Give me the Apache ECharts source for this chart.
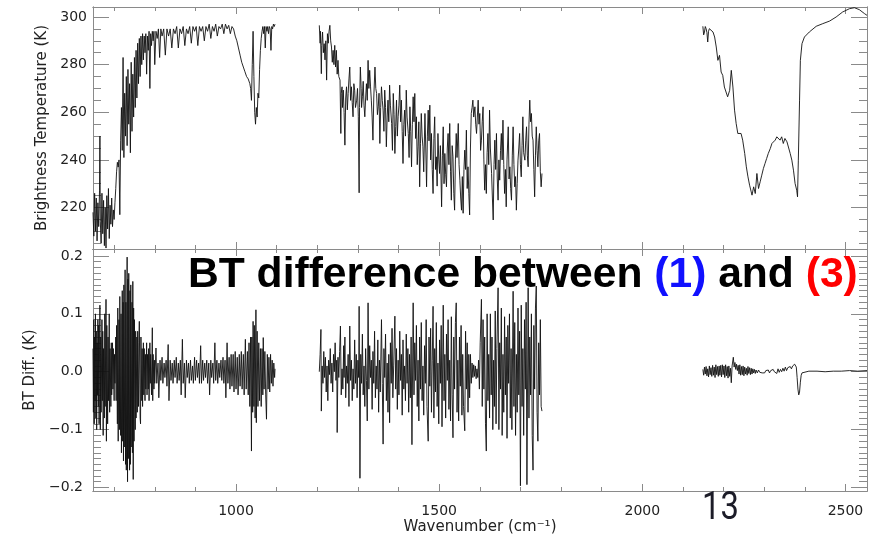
<!DOCTYPE html>
<html>
<head>
<meta charset="utf-8">
<script src="https://cdn.jsdelivr.net/npm/echarts@6/dist/echarts.min.js"></script>
<style>
html,body{margin:0;padding:0;background:#fff;}
#chart{width:870px;height:536px;}
</style>
</head>
<body>
<div id="chart"></div>
<script>
// ---------- axis ranges & ticks ----------
const xRange = [648, 2553];
const xMajorTicks = [1000, 1500, 2000, 2500];
const xMinorTicks = [700, 800, 900, 1000, 1100, 1200, 1300, 1400, 1500, 1600, 1700, 1800, 1900, 2000, 2100, 2200, 2300, 2400, 2500];
const btRange = [202.6, 304.2];
const btMajorTicks = [220, 240, 260, 280, 300];
const btMinorTicks = [205, 210, 215, 220, 225, 230, 235, 240, 245, 250, 255, 260, 265, 270, 275, 280, 285, 290, 295, 300];
const dRange = [-0.206, 0.212];
const dMajorTicks = [-0.2, -0.1, 0, 0.1, 0.2];
const dMajorLabels = ['\u22120.2', '\u22120.1', '0.0', '0.1', '0.2'];
const dMinorTicks = [-0.2, -0.19, -0.18, -0.17, -0.16, -0.15, -0.14, -0.13, -0.12, -0.11, -0.1, -0.09, -0.08, -0.07, -0.06, -0.05, -0.04, -0.03, -0.02, -0.01, 0, 0.01, 0.02, 0.03, 0.04, 0.05, 0.06, 0.07, 0.08, 0.09, 0.1, 0.11, 0.12, 0.13, 0.14, 0.15, 0.16, 0.17, 0.18, 0.19, 0.2];

// ---------- brightness temperature (K), [wavenumber, BT] ----------
const btBand1 = [[648,218],[650,208],[652,226],[654,210],[656,224],[658,206],[660,222],[662,212],[664,227],[665,250],[666,214],[668,205],[670,226],[672,209],[674,223],[676,204],[678,220],[680,203],[682,225],[684,211],[686,228],[688,207],[690,221],[692,213],[694,224],[696,212],[698,219],[700,215],[702,222],[704,228],[706,235],[708,239],[710,237],[712,240],[714,217],[716,248],[718,262],[720,244],[722,283],[724,241],[726,268],[728,250],[730,275],[732,246],[734,278],[736,255],[738,272],[740,243],[742,281],[744,252],[746,276],[748,258],[750,283],[752,262],[754,286],[756,266],[758,289],[760,272],[762,291],[764,275],[766,292],[768,280],[770,293],[772,282],[774,292],[776,285],[778,293],[780,276],[782,292],[784,286],[786,294],[788,270],[790,293],[792,288],[794,294],[796,290],[798,294],[800,280],[803,294],[806,291],[809,295],[812,283],[815,295],[818,292],[822,295],[826,284],[830,295],[834,292],[838,295],[842,287],[846,295],[850,293],[854,296],[858,287],[862,295],[866,293],[870,296],[874,288],[878,295],[882,293],[886,296],[890,289],[894,296],[898,294],[902,296],[906,288],[910,296],[914,294],[918,296],[922,290],[926,296],[930,294],[934,297],[938,291],[942,296],[946,294],[950,297],[954,292],[958,296],[962,295],[966,297],[970,293],[974,297],[978,295],[982,296.5],[986,293],[990,296],[994,295],[998,292],[1002,290],[1006,287],[1010,284],[1014,281],[1018,279],[1022,277],[1026,275],[1030,274],[1034,272],[1036,270],[1038,265],[1040,280],[1042,294],[1044,275],[1046,260],[1048,255],[1050,262],[1052,258],[1054,268],[1056,266],[1058,278],[1060,286],[1062,291],[1064,294],[1066,296],[1068,293],[1070,296],[1072,287],[1074,296],[1076,294],[1078,296],[1080,293],[1082,296],[1084,295],[1086,286],[1088,296],[1090,295],[1092,297],[1094,296],[1096,297]];
const btBand2 = [[1205,296.5],[1207,289],[1208,294],[1210,276.2],[1211,288],[1213,293.7],[1215,285],[1217,288.8],[1219,282],[1221,290],[1223,273.5],[1225,293],[1227,289],[1229,294],[1231,296.5],[1233,290],[1235,287.4],[1237,281],[1239,286],[1241,280],[1243,288.1],[1245,279],[1247,286],[1249,276],[1251,281.8],[1253,275],[1256,273.5],[1258,251.1],[1259,268],[1261,270.7],[1262,262],[1264,269.3],[1266,260],[1268,246.2],[1270,266],[1272,270.7],[1274,261],[1276,267.9],[1278,274],[1280,279],[1282,265],[1284,270.7],[1286,264],[1288,258.1],[1290,272],[1292,269.3],[1294,262],[1297,265.1],[1299,270],[1301,258.1],[1303,226.2],[1304,262],[1306,279],[1308,270],[1309,262],[1311,266.5],[1313,273],[1315,263],[1317,258.1],[1319,266],[1321,272],[1323,265],[1325,281.8],[1327,270],[1329,277.6],[1331,271],[1333,265.1],[1335,258],[1337,248.3],[1339,266],[1342,279],[1344,270],[1346,267.9],[1348,259],[1350,262.3],[1352,268],[1354,246.9],[1356,262],[1358,270.7],[1360,265],[1362,260.9],[1364,252],[1366,269.3],[1368,262],[1370,245.5],[1372,258],[1374,265.1],[1376,256],[1378,271.4],[1380,263],[1383,255.3],[1385,244],[1387,267.9],[1389,259],[1391,242.7],[1393,254],[1395,265.1],[1397,250],[1399,258.1],[1401,263],[1403,271.4],[1405,256],[1407,265.1],[1409,252],[1411,238.5],[1413,255],[1415,260.9],[1417,250],[1419,269.3],[1421,258],[1424,251.1],[1426,241],[1428,262.3],[1430,252],[1432,237.1],[1434,255],[1436,266.5],[1438,256],[1440,267.9],[1442,249],[1444,258.1],[1446,238],[1448,245.5],[1450,256],[1452,228.7],[1454,247],[1456,259.5],[1458,250],[1460,245.5],[1462,235],[1465,259.5],[1467,245],[1469,228.7],[1471,250],[1473,260.9],[1475,248],[1477,263],[1479,240],[1481,251.1],[1483,236],[1485,225.9],[1487,249],[1489,258.1],[1491,236],[1493,241.3],[1495,229],[1497,251.1],[1499,240],[1501,234.3],[1503,246],[1506,220.3],[1508,242],[1510,253.9],[1512,230],[1514,242.7],[1516,234],[1518,228.7],[1520,245],[1522,251.1],[1524,238],[1526,255.3],[1528,235],[1530,223.1],[1532,246],[1534,241.3],[1536,226],[1538,218.9],[1540,240],[1542,251.1],[1544,241],[1547,255.3],[1549,238],[1551,231.5],[1553,224],[1555,218.9],[1557,233],[1559,217.6],[1561,236],[1563,244.1],[1565,236],[1567,252.5],[1569,228],[1571,237.1],[1573,226],[1575,216.9],[1577,245],[1579,259.5],[1581,262],[1583,265.1],[1585,258],[1588,262.3],[1590,255],[1592,251.1],[1594,258],[1596,265.1],[1598,255],[1600,259.5],[1602,244],[1604,248.3],[1606,256],[1608,262.3],[1610,240],[1612,227.3],[1614,238],[1616,225.9],[1618,243],[1620,251.1],[1622,238],[1624,260.9],[1626,245],[1629,234.3],[1631,224],[1633,214.8],[1635,238],[1637,248.3],[1639,236],[1641,251.1],[1643,232],[1645,223.1],[1647,240],[1649,231.5],[1651,244],[1653,251.1],[1655,240],[1657,256.7],[1659,238],[1661,225.9],[1663,236],[1665,220.3],[1667,240],[1670,253.9],[1672,232],[1674,237.1],[1676,228],[1678,223.1],[1680,242],[1682,253.9],[1684,238],[1686,228.7],[1688,233],[1690,218.9],[1692,230],[1694,239.9],[1696,245],[1698,251.1],[1700,238],[1702,232.9],[1704,246],[1706,258.1],[1708,243],[1711,239.9],[1713,248],[1715,253.9],[1717,242],[1719,237.1],[1721,255],[1723,265.1],[1725,256],[1727,259.5],[1729,250],[1731,248.3],[1733,236],[1735,224.5],[1737,242],[1739,253.9],[1741,244],[1743,237.1],[1745,248],[1747,251.1],[1749,235],[1751,228.7],[1753,234.3]];
const btBand3 = [[2149,296.1],[2151,292.5],[2153,293.7],[2155,296],[2157,295.1],[2159,293.5],[2161,289.5],[2163,294],[2165,295.1],[2169,294.6],[2174,293.7],[2178,291.6],[2182,287.4],[2186,281.8],[2190,283.9],[2194,276.9],[2198,275.5],[2202,270.6],[2206,269.9],[2210,266.5],[2215,269.2],[2219,277.6],[2223,270.6],[2227,260.9],[2231,255.3],[2235,251.1],[2239,250.4],[2243,251.1],[2247,248.3],[2252,242.7],[2256,237.1],[2260,232.9],[2264,229.4],[2268,226.6],[2270,225.2],[2274,228.7],[2278,225.9],[2282,234.3],[2286,228],[2290,230.8],[2294,233.6],[2298,236.4],[2302,238.5],[2306,240.6],[2310,242.7],[2315,244.8],[2319,246.9],[2323,246.9],[2327,248.3],[2331,249.7],[2335,250.4],[2339,248.3],[2343,249.7],[2347,246.9],[2351,249],[2356,247.6],[2360,246.9],[2364,242.7],[2368,239.9],[2372,235.7],[2376,230.1],[2380,227.3],[2382,224.5],[2384,239.9],[2387,265.1],[2389,281.8],[2393,288.8],[2399,291.6],[2411,293.7],[2428,296.1],[2444,297.2],[2461,298.3],[2477,300],[2493,302.1],[2510,303.5],[2522,303.9],[2534,303.1],[2547,301.4],[2553,300.7]];

// ---------- BT difference (K), [wavenumber, dBT] ----------
const dBand1 = [[648,0.04],[649,-0.07],[650,0.09],[651,-0.09],[652,0.06],[653,-0.05],[654,0.1],[655,-0.08],[656,0.07],[657,-0.1],[658,0.05],[659,-0.04],[660,0.09],[661,-0.06],[662,0.08],[663,-0.09],[664,0.03],[665,0.115],[666,-0.1],[667,0.06],[668,-0.07],[670,0.09],[671,-0.05],[672,0.07],[673,-0.11],[674,0.04],[676,-0.08],[677,0.1],[678,-0.06],[680,0.125],[681,-0.12],[682,0.08],[684,-0.09],[685,0.06],[686,-0.05],[688,0.1],[689,-0.07],[690,0.04],[692,-0.06],[693,0.05],[694,-0.04],[696,0.05],[697,-0.03],[698,0.04],[700,-0.05],[701,0.03],[702,-0.02],[704,0.06],[705,-0.05],[706,0.08],[708,-0.09],[709,0.11],[710,-0.12],[712,0.09],[713,-0.1],[714,0.13],[716,-0.11],[717,0.1],[718,-0.14],[720,0.14],[721,-0.12],[722,0.12],[723,-0.154],[724,0.15],[725,-0.13],[727,0.176],[728,-0.16],[729,0.12],[730,-0.17],[732,0.198],[733,-0.19],[734,0.16],[735,-0.15],[736,0.17],[738,-0.17],[739,0.14],[740,-0.16],[741,0.15],[742,-0.13],[744,0.12],[745,-0.14],[746,0.156],[747,-0.186],[748,0.11],[749,-0.12],[750,0.09],[752,-0.1],[753,0.07],[754,-0.08],[756,0.06],[757,-0.07],[758,0.07],[760,-0.06],[761,0.05],[762,0.087],[764,-0.08],[765,-0.09],[766,0.06],[768,-0.05],[769,0.04],[770,-0.06],[772,0.05],[773,-0.04],[774,0.04],[776,-0.05],[777,0.03],[778,-0.03],[780,0.05],[781,-0.04],[782,0.03],[784,-0.03],[785,0.04],[786,-0.05],[788,0.05],[789,-0.02],[790,0.03],[792,-0.04],[794,0.076],[795,-0.05],[796,0.03],[798,-0.03],[799,0.02],[800,-0.02],[803,0.041],[805,-0.02],[808,0.015],[810,-0.045],[813,0.02],[815,-0.015],[818,0.025],[820,-0.02],[823,0.015],[825,-0.01],[828,0.02],[830,-0.025],[833,0.047],[835,-0.05],[838,0.02],[840,-0.015],[843,0.015],[845,-0.02],[848,0.02],[850,-0.01],[853,0.025],[855,-0.02],[858,0.015],[860,-0.015],[863,0.02],[865,-0.04],[868,0.056],[870,-0.02],[873,0.015],[875,-0.045],[878,0.02],[880,-0.01],[883,0.015],[885,-0.02],[888,0.02],[890,-0.015],[893,0.01],[895,-0.02],[898,0.025],[900,-0.015],[903,0.02],[905,-0.01],[908,0.015],[910,-0.02],[913,0.045],[915,-0.02],[918,0.02],[920,-0.015],[923,0.015],[925,-0.01],[928,0.02],[930,-0.02],[933,0.015],[935,-0.04],[938,0.02],[940,-0.01],[943,0.015],[945,-0.02],[948,0.05],[950,-0.015],[953,0.02],[955,-0.02],[958,0.015],[960,-0.01],[963,0.02],[965,-0.015],[968,0.025],[970,-0.02],[973,0.02],[975,-0.045],[978,0.05],[980,-0.02],[983,0.025],[985,-0.03],[988,0.03],[990,-0.025],[993,0.03],[995,-0.035],[998,0.035],[1000,-0.03],[1003,0.025],[1005,-0.04],[1008,0.03],[1010,-0.025],[1013,0.035],[1015,-0.03],[1018,0.03],[1020,-0.04],[1023,0.056],[1025,-0.03],[1028,0.035],[1030,-0.04],[1032,0.05],[1034,-0.06],[1036,0.06],[1038,-0.137],[1039,0.06],[1041,-0.07],[1042,0.087],[1044,-0.06],[1045,0.08],[1047,-0.08],[1049,0.107],[1050,-0.088],[1052,0.07],[1054,-0.06],[1056,0.05],[1058,-0.05],[1060,0.04],[1062,-0.06],[1064,0.04],[1066,-0.04],[1067,0.059],[1069,-0.03],[1071,0.035],[1073,-0.04],[1075,-0.082],[1077,0.03],[1079,-0.03],[1081,0.025],[1083,-0.035],[1085,0.03],[1087,-0.02],[1089,0.02],[1091,-0.025],[1093,0.015],[1095,-0.01],[1096,0.005]];
const dBand2 = [[1205,0.0],[1207,0.03],[1209,0.073],[1210,-0.068],[1212,0.01],[1214,-0.02],[1216,0.035],[1218,-0.01],[1220,0.025],[1222,-0.035],[1224,0.01],[1226,-0.05],[1228,0.02],[1230,-0.005],[1232,0.04],[1234,-0.02],[1236,0.015],[1238,-0.035],[1240,0.03],[1242,0.0],[1244,0.05],[1246,-0.015],[1248,0.02],[1249,-0.105],[1251,0.025],[1253,-0.01],[1255,0.035],[1257,0.079],[1259,-0.04],[1261,0.005],[1263,-0.03],[1265,0.045],[1266,-0.01],[1268,0.06],[1270,-0.045],[1272,0.01],[1274,-0.02],[1276,0.03],[1278,-0.06],[1280,0.079],[1282,-0.015],[1284,0.02],[1286,-0.05],[1288,0.005],[1290,-0.03],[1292,0.055],[1294,-0.02],[1296,0.03],[1298,-0.045],[1300,0.02],[1302,-0.01],[1303,0.113],[1305,-0.184],[1307,0.03],[1309,-0.02],[1311,0.065],[1313,-0.04],[1315,0.01],[1317,-0.06],[1319,0.04],[1321,-0.015],[1323,-0.085],[1325,0.119],[1327,-0.03],[1329,0.045],[1331,-0.01],[1333,0.02],[1335,-0.065],[1337,0.035],[1339,-0.02],[1341,0.07],[1343,-0.045],[1345,0.01],[1347,-0.03],[1349,0.055],[1351,-0.07],[1353,0.02],[1355,-0.035],[1358,0.09],[1360,-0.02],[1362,-0.125],[1364,0.04],[1366,-0.01],[1368,0.065],[1370,-0.05],[1372,0.015],[1374,-0.07],[1376,0.03],[1378,-0.088],[1380,0.05],[1382,-0.02],[1384,0.075],[1386,-0.045],[1388,0.01],[1391,0.096],[1393,-0.03],[1395,0.04],[1397,-0.065],[1399,0.02],[1401,-0.04],[1403,0.07],[1405,-0.015],[1407,0.03],[1409,-0.075],[1411,0.055],[1413,-0.03],[1415,0.01],[1417,-0.05],[1419,0.065],[1421,-0.02],[1423,0.04],[1425,-0.07],[1427,0.03],[1429,-0.045],[1431,0.06],[1433,-0.126],[1436,0.119],[1438,-0.04],[1440,0.05],[1442,-0.015],[1444,0.08],[1446,-0.06],[1448,0.02],[1450,-0.085],[1452,0.06],[1454,-0.03],[1456,0.085],[1458,-0.05],[1460,0.01],[1462,-0.075],[1464,0.045],[1466,-0.02],[1468,0.09],[1470,-0.06],[1473,-0.12],[1475,0.06],[1477,-0.025],[1479,0.075],[1481,-0.07],[1483,0.02],[1485,0.113],[1487,-0.08],[1489,0.04],[1491,-0.035],[1493,0.085],[1495,-0.06],[1497,0.015],[1499,-0.09],[1501,0.055],[1503,-0.02],[1505,0.08],[1507,-0.095],[1510,0.115],[1512,-0.05],[1514,0.03],[1516,-0.08],[1518,0.065],[1520,-0.015],[1522,0.09],[1524,-0.065],[1526,0.02],[1528,-0.085],[1530,0.095],[1532,-0.04],[1534,-0.114],[1536,0.06],[1538,-0.03],[1540,0.085],[1542,0.119],[1544,-0.07],[1546,0.02],[1548,-0.085],[1550,0.06],[1552,-0.025],[1554,0.08],[1556,-0.075],[1558,0.03],[1560,-0.06],[1563,-0.102],[1565,0.07],[1567,-0.03],[1569,0.05],[1571,-0.07],[1573,0.03],[1575,-0.045],[1577,0.03],[1579,-0.02],[1581,0.015],[1583,-0.01],[1585,0.012],[1587,-0.008],[1589,0.01],[1591,-0.012],[1593,0.005],[1595,-0.01],[1597,0.02],[1599,-0.03],[1601,0.05],[1604,0.125],[1606,-0.06],[1608,0.09],[1610,-0.03],[1612,0.06],[1614,-0.09],[1616,-0.137],[1618,0.1],[1620,-0.05],[1622,0.03],[1624,-0.08],[1626,0.1],[1628,-0.04],[1630,0.06],[1632,-0.1],[1634,0.02],[1636,-0.06],[1638,0.105],[1640,-0.09],[1642,0.04],[1645,0.145],[1647,-0.1],[1649,0.05],[1651,-0.03],[1653,0.11],[1655,-0.11],[1657,0.03],[1659,-0.07],[1661,0.095],[1663,-0.04],[1665,0.06],[1667,-0.115],[1669,0.08],[1671,-0.02],[1673,0.1],[1675,-0.08],[1677,0.04],[1679,-0.1],[1682,0.139],[1684,-0.06],[1686,0.085],[1688,-0.11],[1690,0.03],[1692,-0.07],[1694,0.11],[1696,-0.04],[1698,0.07],[1700,-0.197],[1702,0.115],[1704,-0.06],[1706,0.04],[1708,-0.11],[1710,0.09],[1712,-0.03],[1714,0.12],[1716,-0.195],[1719,0.145],[1721,-0.08],[1723,0.06],[1725,-0.04],[1727,0.1],[1729,-0.11],[1731,-0.17],[1733,0.08],[1735,-0.03],[1737,0.11],[1739,0.148],[1741,-0.07],[1743,-0.12],[1745,0.05],[1747,-0.04],[1749,0.09],[1751,-0.06],[1753,-0.068]];
const dBand3 = [[2149,0.004],[2151,-0.006],[2153,0.008],[2155,-0.004],[2157,0.009],[2159,-0.007],[2161,0.005],[2163,-0.009],[2165,0.01],[2167,-0.005],[2169,0.007],[2171,-0.008],[2173,0.011],[2175,-0.006],[2177,0.008],[2179,-0.01],[2181,0.012],[2183,-0.005],[2185,0.009],[2187,-0.008],[2189,0.01],[2191,-0.006],[2193,0.011],[2195,-0.009],[2197,0.012],[2199,-0.005],[2201,0.01],[2203,-0.01],[2205,0.012],[2207,-0.007],[2209,0.009],[2211,-0.011],[2213,0.01],[2215,-0.008],[2217,0.006],[2219,-0.019],[2221,0.01],[2222,0.015],[2224,0.025],[2226,0.008],[2228,0.016],[2230,0.004],[2232,0.013],[2234,0.002],[2236,0.011],[2238,-0.004],[2240,0.012],[2242,-0.006],[2244,0.009],[2246,-0.005],[2248,0.01],[2250,-0.007],[2252,0.008],[2254,-0.004],[2256,0.006],[2258,-0.006],[2260,0.009],[2262,-0.003],[2264,0.007],[2266,-0.005],[2268,0.006],[2270,-0.004],[2272,0.005],[2274,-0.002],[2276,0.004],[2278,-0.003],[2280,0.003],[2283,-0.002],[2286,0.003],[2289,-0.001],[2292,0.002],[2295,-0.002],[2298,0.001],[2301,-0.002],[2304,0.002],[2307,-0.001],[2310,0.003],[2313,-0.002],[2316,0.002],[2319,-0.001],[2322,0.004],[2325,0.0],[2328,0.003],[2331,-0.003],[2334,0.005],[2337,-0.001],[2340,0.004],[2343,0.0],[2346,0.006],[2349,0.001],[2352,0.008],[2355,0.002],[2358,0.007],[2361,0.004],[2364,0.009],[2367,0.005],[2370,0.01],[2373,0.008],[2375,0.013],[2377,0.0155],[2379,0.008],[2381,-0.01],[2383,-0.03],[2385,-0.04],[2387,-0.035],[2389,-0.018],[2391,-0.006],[2393,-0.002],[2396,0.0],[2410,0.001],[2430,0.001],[2450,0.0],[2470,0.001],[2490,0.001],[2510,0.002],[2530,0.001],[2553,0.002]];

// ---------- texts ----------
const btAxisName = 'Brightness Temperature (K)';
const dAxisName = 'BT Diff. (K)';
const xAxisName = 'Wavenumber (cm\u207B\u00B9)';
const overlayParts = ['BT difference between ', '(1)', ' and ', '(3)'];
const pageNumber = '13';

// ---------- build ----------
const AXC = '#8a8a8a';
const FONT = '"DejaVu Sans", sans-serif';
const TFONT = '"Liberation Sans", Arial, sans-serif';
const grids = [
  {left: 93, top: 7, width: 774, height: 242},
  {left: 93, top: 249, width: 774, height: 242}
];

function xAx(g, pos, ticks, len, opts) {
  return Object.assign({
    type: 'value', gridIndex: g, position: pos, min: xRange[0], max: xRange[1],
    axisLine: {show: true, onZero: false, lineStyle: {color: AXC, width: 1}},
    axisTick: {show: true, inside: true, length: len, customValues: ticks, lineStyle: {color: AXC, width: 1}},
    axisLabel: {show: false},
    splitLine: {show: false}
  }, opts || {});
}
function yAx(g, pos, range, ticks, len, opts) {
  return Object.assign({
    type: 'value', gridIndex: g, position: pos, min: range[0], max: range[1],
    axisLine: {show: true, onZero: false, lineStyle: {color: AXC, width: 1}},
    axisTick: {show: true, inside: true, length: len, customValues: ticks, lineStyle: {color: AXC, width: 1}},
    axisLabel: {show: false},
    splitLine: {show: false}
  }, opts || {});
}

const xAxes = [
  xAx(0, 'bottom', xMajorTicks, 7),
  xAx(0, 'bottom', xMinorTicks, 4),
  xAx(0, 'top', xMajorTicks, 7),
  xAx(0, 'top', xMinorTicks, 4),
  xAx(1, 'bottom', xMajorTicks, 7, {
    axisLabel: {show: true, customValues: xMajorTicks, margin: 13, color: '#222', fontSize: 14, fontFamily: FONT,
      formatter: function (v) { return String(Math.round(v)); }},
    name: xAxisName, nameLocation: 'middle', nameGap: 29,
    nameTextStyle: {color: '#222', fontSize: 15, fontFamily: FONT}
  }),
  xAx(1, 'bottom', xMinorTicks, 4),
  xAx(1, 'top', xMajorTicks, 7),
  xAx(1, 'top', xMinorTicks, 4)
];
const yAxes = [
  yAx(0, 'left', btRange, btMajorTicks, 16, {
    axisLabel: {show: true, customValues: btMajorTicks, margin: 6, color: '#222', fontSize: 14, fontFamily: FONT,
      formatter: function (v) { return String(Math.round(v)); }},
    name: btAxisName, nameLocation: 'middle', nameGap: 43, nameRotate: 90,
    nameTextStyle: {color: '#222', fontSize: 15, fontFamily: FONT}
  }),
  yAx(0, 'left', btRange, btMinorTicks, 8),
  yAx(0, 'right', btRange, btMajorTicks, 16),
  yAx(0, 'right', btRange, btMinorTicks, 8),
  yAx(1, 'left', dRange, dMajorTicks, 16, {
    axisLabel: {show: true, customValues: dMajorTicks, margin: 10, color: '#222', fontSize: 14, fontFamily: FONT,
      formatter: function (v) { const i = dMajorTicks.findIndex(t => Math.abs(t - v) < 1e-9); return i >= 0 ? dMajorLabels[i] : ''; }},
    name: dAxisName, nameLocation: 'middle', nameGap: 51, nameRotate: 90,
    nameTextStyle: {color: '#222', fontSize: 15, fontFamily: FONT}
  }),
  yAx(1, 'left', dRange, dMinorTicks, 8),
  yAx(1, 'right', dRange, dMajorTicks, 16),
  yAx(1, 'right', dRange, dMinorTicks, 8)
];

function line(data, xi, yi) {
  return {type: 'line', data: data, xAxisIndex: xi, yAxisIndex: yi, showSymbol: false, symbol: 'none',
    lineStyle: {color: '#111', width: 0.9}, animation: false, silent: true, clip: true};
}

const chart = echarts.init(document.getElementById('chart'), null, {renderer: 'canvas'});
chart.setOption({
  animation: false,
  backgroundColor: '#fff',
  grid: grids.map(g => Object.assign({outerBoundsMode: 'none', containLabel: false}, g)),
  xAxis: xAxes,
  yAxis: yAxes,
  series: [
    line(btBand1, 0, 0), line(btBand2, 0, 0), line(btBand3, 0, 0),
    line(dBand1, 4, 4), line(dBand2, 4, 4), line(dBand3, 4, 4)
  ],
  graphic: [
    {type: 'text', left: 188, top: 254, z: 100,
      style: {
        text: '{k|' + overlayParts[0] + '}{b|' + overlayParts[1] + '}{k|' + overlayParts[2] + '}{r|' + overlayParts[3] + '}',
        font: 'bold 42.6px ' + TFONT,
        rich: {
          k: {fill: '#000', fontSize: 42.6, fontWeight: 'bold', fontFamily: TFONT},
          b: {fill: '#1010ff', fontSize: 42.6, fontWeight: 'bold', fontFamily: TFONT},
          r: {fill: '#ff0000', fontSize: 42.6, fontWeight: 'bold', fontFamily: TFONT}
        }
      }},
    {type: 'text', left: 702, top: 490, z: 100, scaleX: 0.84,
      style: {text: pageNumber, font: '39px Roboto, sans-serif', fill: '#1c1c28'}}
  ]
});
</script>
</body>
</html>
